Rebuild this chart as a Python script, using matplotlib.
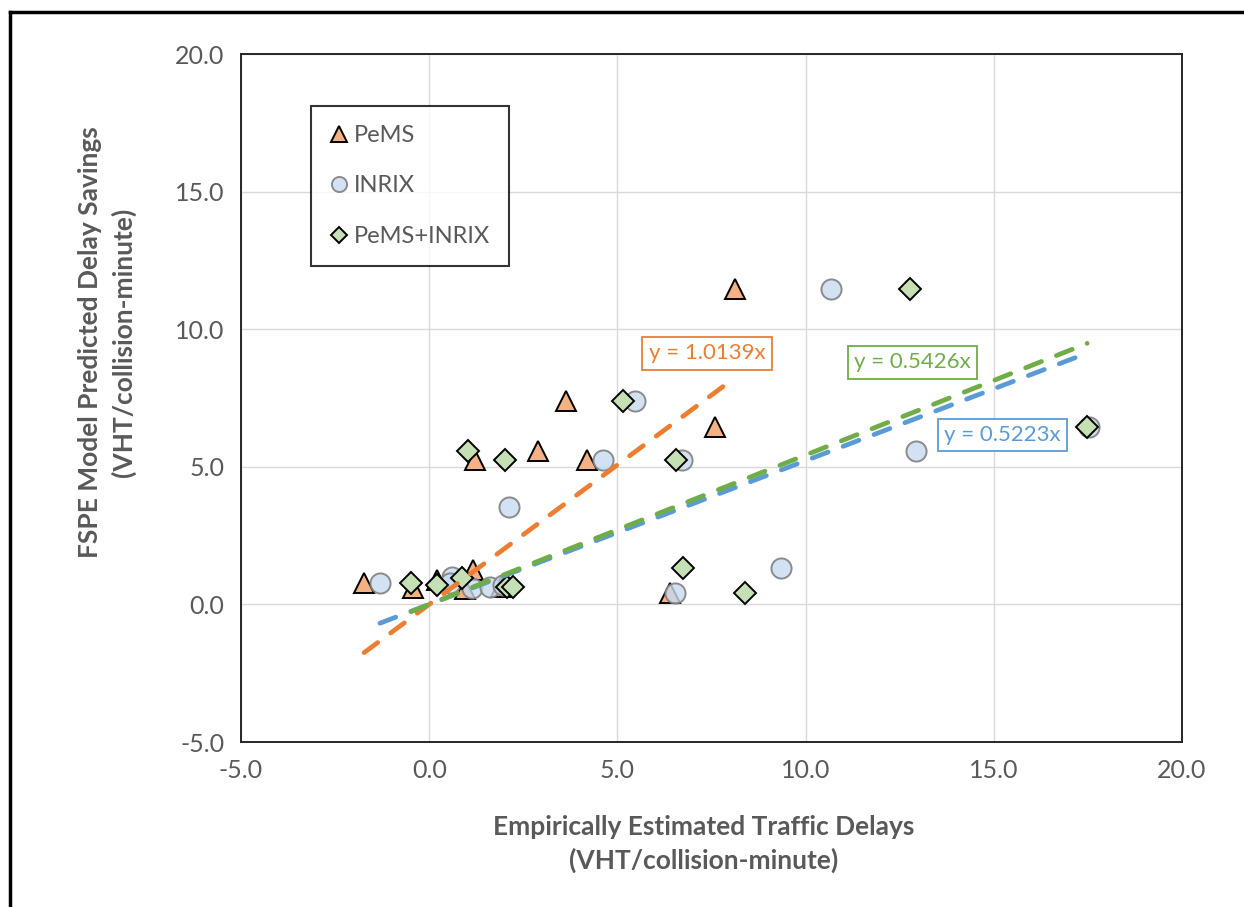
import matplotlib
matplotlib.use("Agg")
import matplotlib.pyplot as plt
from matplotlib.lines import Line2D
import numpy as np

plt.rcParams['font.family'] = ['Lato', 'DejaVu Sans']

# PeMS estimates (x) vs model predicted savings (y)
pems_x = [-1.73, -0.43, 0.21, 1.16, 0.95, 1.90, 1.22, 2.89, 3.64, 4.19, 6.39, 7.59, 8.12]
pems_y = [0.78, 0.60, 0.89, 1.25, 0.55, 0.63, 5.25, 5.58, 7.39, 5.25, 0.41, 6.45, 11.46]

inrix_x = [-1.31, 0.60, 0.55, 1.14, 1.62, 1.97, 2.12, 4.62, 5.47, 6.71, 6.53, 9.35, 10.67, 12.92, 17.53]
inrix_y = [0.78, 1.00, 0.78, 0.60, 0.63, 0.71, 3.54, 5.25, 7.39, 5.25, 0.41, 1.32, 11.46, 5.58, 6.45]

comb_x = [-0.48, 0.21, 0.88, 1.03, 2.02, 2.07, 2.23, 5.15, 6.56, 6.74, 8.39, 12.78, 17.48]
comb_y = [0.78, 0.71, 0.96, 5.58, 5.25, 0.63, 0.63, 7.39, 5.25, 1.32, 0.41, 11.46, 6.45]

slopes = [1.0139, 0.5223, 0.5426]
eq_labels = ["y = 1.0139x", "y = 0.5223x", "y = 0.5426x"]

grey = '#595959'
c_or, c_bl, c_gr = '#ED7D31', '#5B9BD5', '#70AD47'

fig = plt.figure(figsize=(12.44, 9.07), dpi=100)
ax = fig.add_axes([241/1244, 1-742/907, (1182-241)/1244, (742-54)/907])

ax.plot(pems_x, pems_y, ls='none', marker='^', ms=15, mfc='#F4B183', mec='black', mew=1.4,
        label='PeMS', zorder=3)
ax.plot(inrix_x, inrix_y, ls='none', marker='o', ms=14.5, mfc=(0.78, 0.86, 0.94, 0.8),
        mec=(0.5, 0.5, 0.5, 0.9), mew=1.4, label='INRIX', zorder=4)
ax.plot(comb_x, comb_y, ls='none', marker='D', ms=11, mfc='#C5E0B4', mec='black', mew=1.4,
        label='PeMS+INRIX', zorder=5)

# trendlines through the origin
for xs, k, col in [(pems_x, slopes[0], c_or), (inrix_x, slopes[1], c_bl), (comb_x, slopes[2], c_gr)]:
    xx = np.array([min(xs), max(xs)])
    ax.plot(xx, k * xx, color=col, lw=3.4, ls=(0, (3.6, 3.4)), dash_capstyle='round',
            solid_capstyle='round', zorder=6)

box = dict(boxstyle='square,pad=0.28', fc='white', lw=1.3)
ax.text(7.38, 9.12, eq_labels[0], color=c_or, fontsize=16, ha='center', va='center',
        bbox={**box, 'ec': c_or}, zorder=7)
ax.text(15.22, 6.16, eq_labels[1], color=c_bl, fontsize=16, ha='center', va='center',
        bbox={**box, 'ec': c_bl}, zorder=7)
ax.text(12.85, 8.79, eq_labels[2], color=c_gr, fontsize=16, ha='center', va='center',
        bbox={**box, 'ec': c_gr}, zorder=7)

ax.set_xlim(-5, 20)
ax.set_ylim(-5, 20)
ticks = np.arange(-5, 21, 5)
ax.set_xticks(ticks)
ax.set_yticks(ticks)
ax.set_xticklabels([f"{t:.1f}" for t in ticks])
ax.set_yticklabels([f"{t:.1f}" for t in ticks])
ax.tick_params(length=0, labelsize=18, labelcolor=grey, pad=12)
ax.grid(True, color='#D9D9D9', lw=1.0)
ax.set_axisbelow(True)
for s in ax.spines.values():
    s.set_color('#262626')
    s.set_linewidth(1.4)

leg = ax.legend(loc='upper left', bbox_to_anchor=(311/1244, 1-106/907), bbox_transform=fig.transFigure,
                fontsize=17, labelcolor=grey, frameon=True, fancybox=False, markerscale=0.75,
                handlelength=0.8, handletextpad=0.2, labelspacing=1.25, borderpad=0.8,
                borderaxespad=0)
leg.get_frame().set_edgecolor('black')
leg.get_frame().set_linewidth(1.5)

fig.text(704/1244, 1-844/907, "Empirically Estimated Traffic Delays\n(VHT/collision-minute)",
         ha='center', va='center', fontsize=19, fontweight='bold', color=grey, linespacing=1.45)
fig.text(107/1244, 1-342/907, "FSPE Model Predicted Delay Savings\n(VHT/collision-minute)",
         ha='center', va='center', rotation=90, fontsize=19, fontweight='bold', color=grey,
         linespacing=1.45)

# outer chart border (top and left edges)
fig.add_artist(Line2D([10/1244, 10/1244], [0, 1-12/907], color='black', lw=2.5))
fig.add_artist(Line2D([10/1244, 1], [1-12/907, 1-12/907], color='black', lw=2.5))

fig.savefig('out.png', dpi=100)
